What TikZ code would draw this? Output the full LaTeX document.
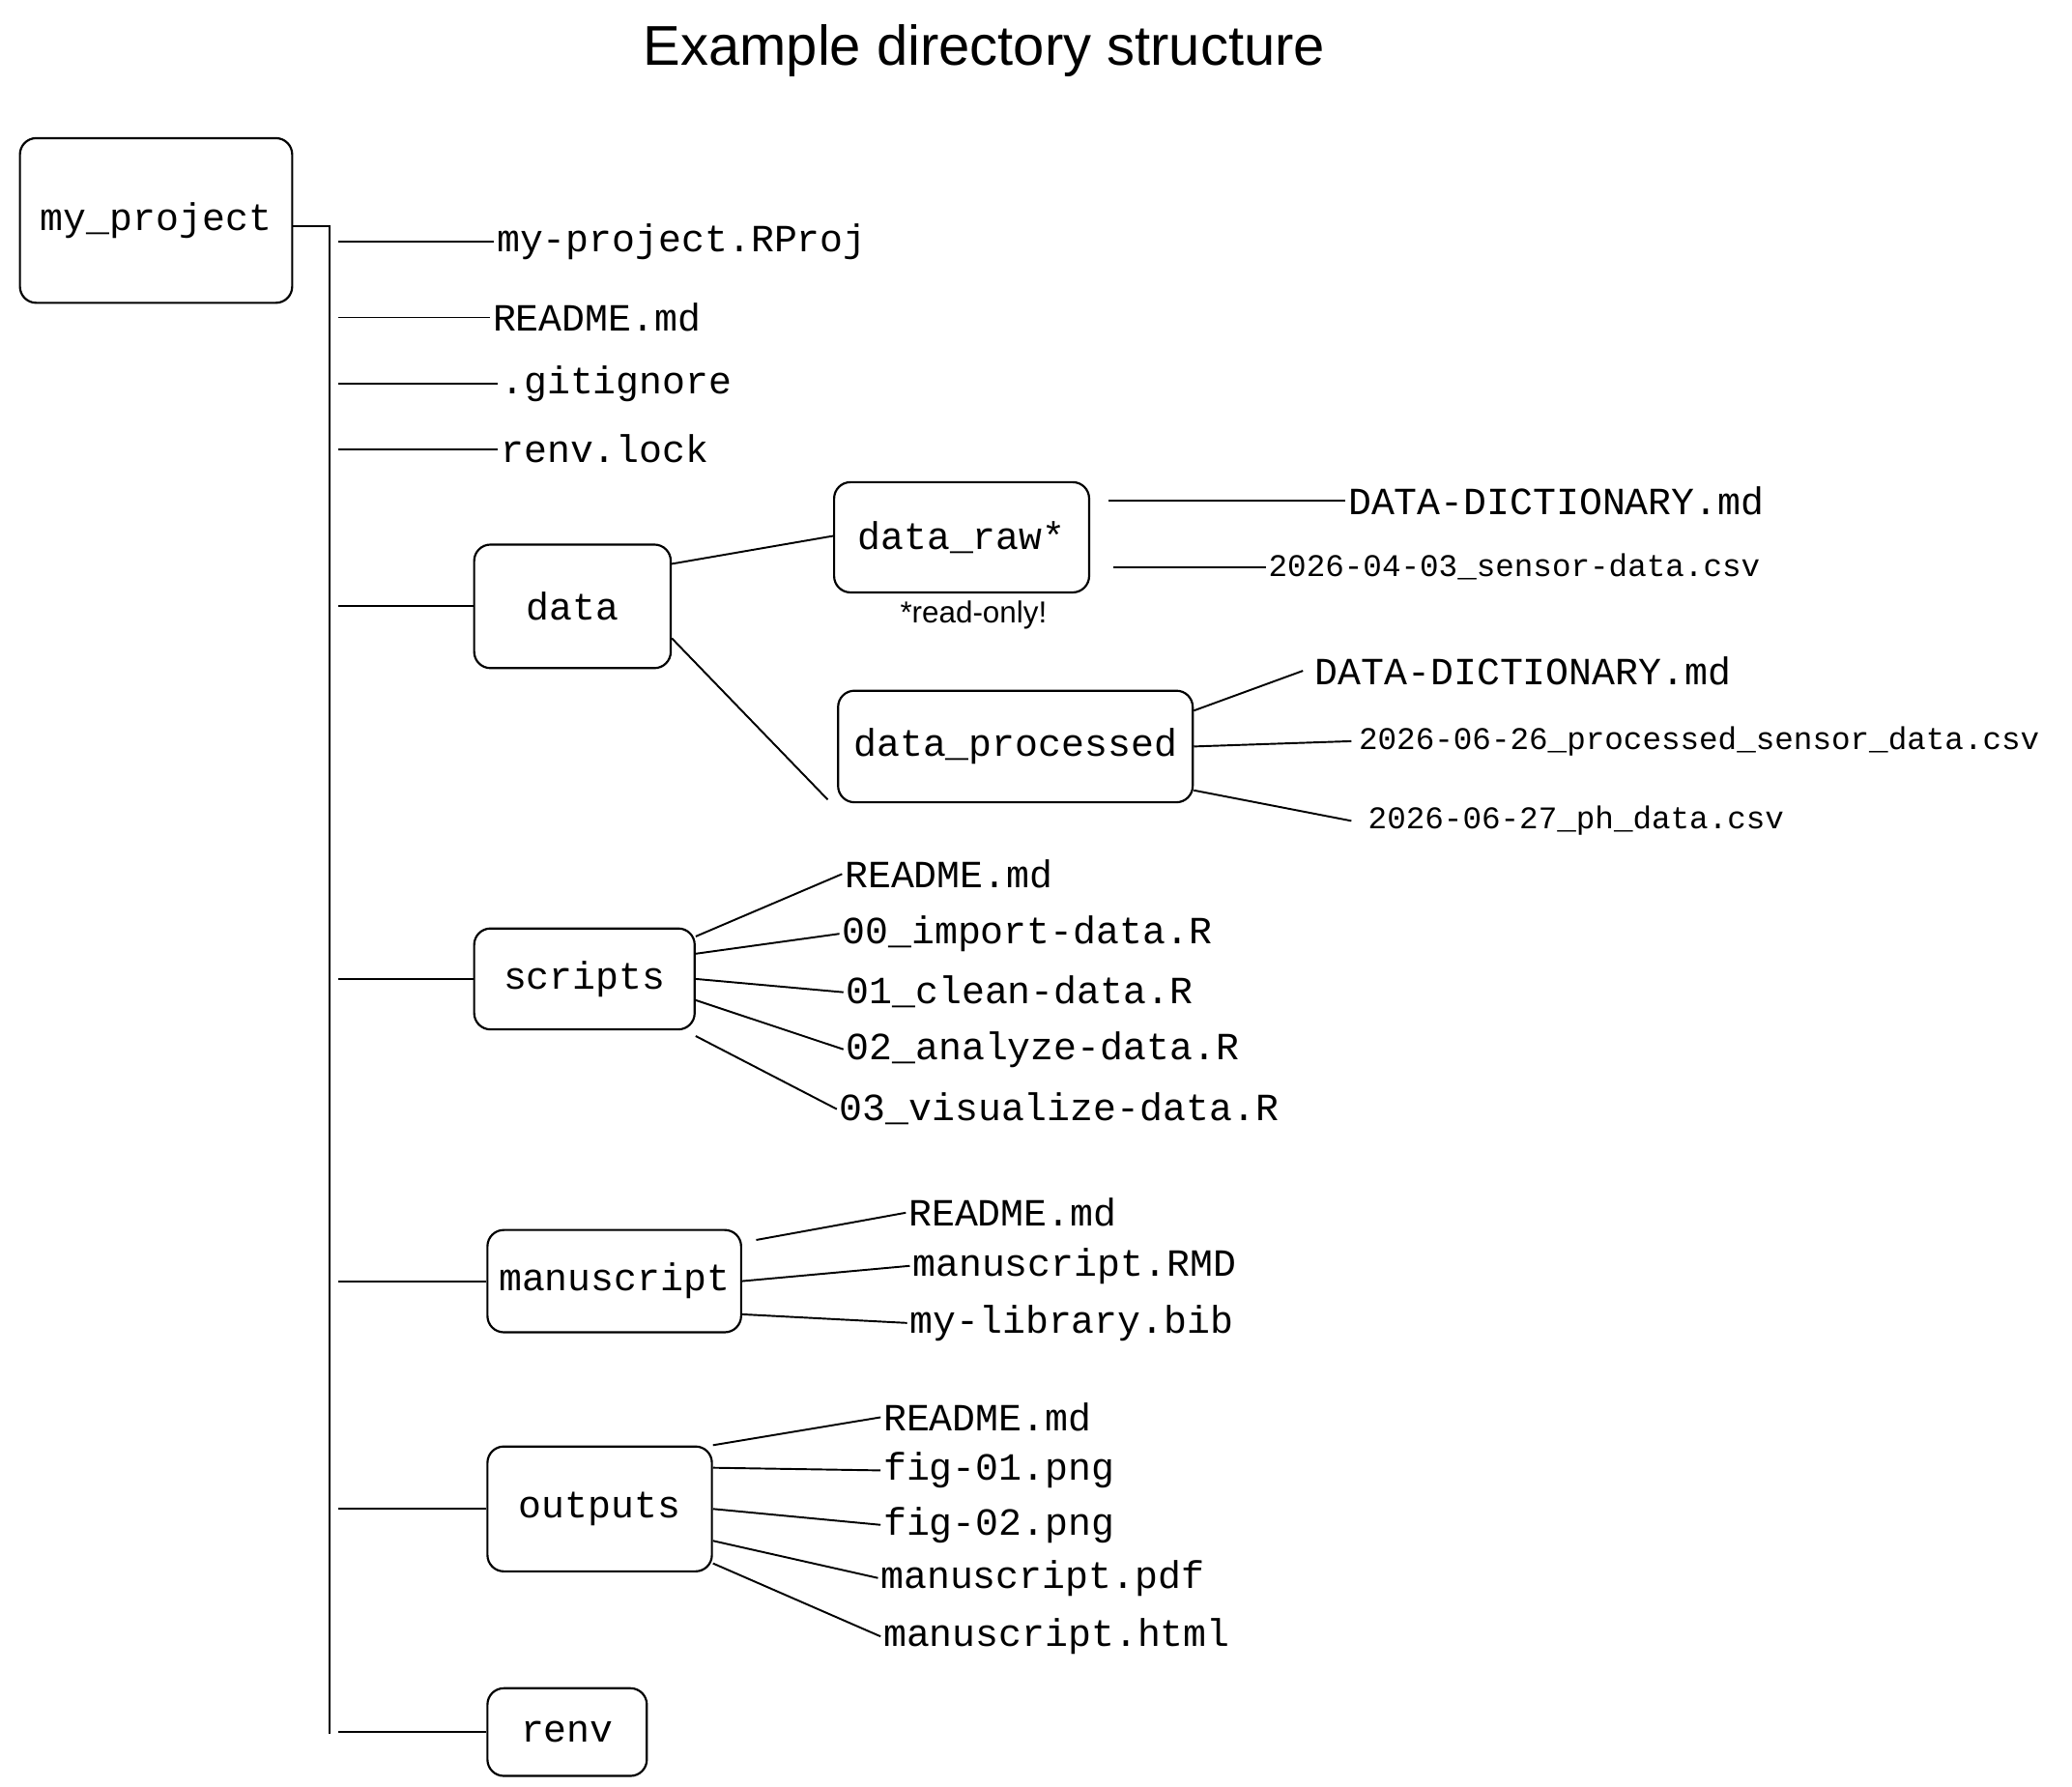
\documentclass[tikz,border=0pt]{standalone}
\usepackage{fontspec}
\setmainfont{Liberation Sans}
\setmonofont{Liberation Mono}
\tikzset{
  dir/.style = {draw, rounded corners=7pt, line width=0.9pt, font=\ttfamily\fontsize{16.5}{18}\selectfont},
  file/.style = {anchor=west, inner sep=1pt, font=\ttfamily\fontsize{16.5}{18}\selectfont},
  small/.style = {file, font=\ttfamily\fontsize{13.5}{15}\selectfont},
  link/.style = {line width=0.8pt}
}
\begin{document}
\begin{tikzpicture}[x=0.02cm, y=-0.02cm]
	\useasboundingbox (0,0) rectangle (1560,1345);
	\node[font=\fontsize{24}{28}\selectfont] (title) at (741,38) {Example directory structure};
	
	% Folders
	\node[dir, minimum width=205*0.02cm, minimum height=124*0.02cm] (proj) at (117.5,166) {my\_project};
	\node[dir, minimum width=148*0.02cm, minimum height=93*0.02cm] (data) at (431,456.5) {data};
	\node[dir, minimum width=192*0.02cm, minimum height=83*0.02cm] (raw) at (724,404.5) {data\_raw*};
	\node[dir, minimum width=267*0.02cm, minimum height=84*0.02cm] (proc) at (764.5,562) {data\_processed};
	\node[dir, minimum width=166*0.02cm, minimum height=76*0.02cm] (scripts) at (440,737) {scripts};
	\node[dir, minimum width=191*0.02cm, minimum height=77*0.02cm] (manu) at (462.5,964.5) {manuscript};
	\node[dir, minimum width=169*0.02cm, minimum height=94*0.02cm] (outputs) at (451.5,1136) {outputs};
	\node[dir, minimum width=120*0.02cm, minimum height=66*0.02cm] (renv) at (427,1304) {renv};
	\node[font=\fontsize{13}{15}\selectfont] (ro) at (733,463) {*read-only!};
	
	% Top level files
	\node[file] (rproj) at (372,182) {my-project.RProj};
	\node[file] (readme) at (369,239) {README.md};
	\node[file] (git) at (375,289) {.gitignore};
	\node[file] (lock) at (375,338) {renv.lock};
	
	% Files in data
	\node[file] (dictA) at (1013,377) {DATA-DICTIONARY.md};
	\node[small] (sensor) at (953,427) {2026-04-03\_sensor-data.csv};
	\node[file] (dictB) at (988,505) {DATA-DICTIONARY.md};
	\node[small] (procd) at (1021,558) {2026-06-26\_processed\_sensor\_data.csv};
	\node[small] (ph) at (1028,618) {2026-06-27\_ph\_data.csv};
	
	% Files in scripts
	\node[file] (sreadme) at (634,658) {README.md};
	\node[file] (s0) at (632,703) {00\_import-data.R};
	\node[file] (s1) at (635,747) {01\_clean-data.R};
	\node[file] (s2) at (635,790) {02\_analyze-data.R};
	\node[file] (s3) at (630,835) {03\_visualize-data.R};
	
	% Files in manuscript
	\node[file] (mreadme) at (682,913) {README.md};
	\node[file] (rmd) at (685,953) {manuscript.RMD};
	\node[file] (bib) at (683,996) {my-library.bib};
	
	% Files in outputs
	\node[file] (oreadme) at (663,1067) {README.md};
	\node[file] (fig1) at (663,1107) {fig-01.png};
	\node[file] (fig2) at (663,1148) {fig-02.png};
	\node[file] (pdf) at (661,1188) {manuscript.pdf};
	\node[file] (html) at (663,1232) {manuscript.html};
	
	% Trunk
	\coordinate (top) at (248,170);
	\coordinate (bot) at (248,1305);
	\draw[link] (proj.east |- top) -- (top) -- (bot);
	\foreach \n in {rproj, readme, git, lock, data, scripts, manu, outputs, renv}
		\draw[link] (top |- \n.west) ++(7,0) -- (\n.west);
	
	% Branches
	\draw[link] (data.east) ++(0,-32) -- ([yshift=0.02cm]raw.west);
	\draw[link] (data.east) ++(0,24) -- ([shift={(-4pt,-0.8cm)}]proc.west);
	\draw[link] ([xshift=8pt]raw.east |- dictA.west) -- (dictA.west);
	\draw[link] ([xshift=10pt]raw.east |- sensor.west) -- (sensor.west);
	\draw[link] ([yshift=0.54cm]proc.east) -- ([xshift=-4pt]dictB.west);
	\draw[link] (proc.east) -- ([xshift=-2pt]procd.west);
	\draw[link] ([yshift=-0.66cm]proc.east) -- ([xshift=-6pt]ph.west);
	\draw[link] ([yshift=0.64cm]scripts.east) -- (sreadme.west);
	\draw[link] ([yshift=0.38cm]scripts.east) -- (s0.west);
	\draw[link] (scripts.east) -- (s1.west);
	\draw[link] ([yshift=-0.32cm]scripts.east) -- (s2.west);
	\draw[link] ([yshift=-0.86cm]scripts.east) -- (s3.west);
	\draw[link] ([shift={(6pt,0.62cm)}]manu.east) -- (mreadme.west);
	\draw[link] (manu.east) -- (rmd.west);
	\draw[link] ([yshift=-0.5cm]manu.east) -- (bib.west);
	\draw[link] ([yshift=0.96cm]outputs.east) -- (oreadme.west);
	\draw[link] ([yshift=0.62cm]outputs.east) -- (fig1.west);
	\draw[link] (outputs.east) -- (fig2.west);
	\draw[link] ([yshift=-0.48cm]outputs.east) -- (pdf.west);
	\draw[link] ([yshift=-0.82cm]outputs.east) -- (html.west);
\end{tikzpicture}
\end{document}
